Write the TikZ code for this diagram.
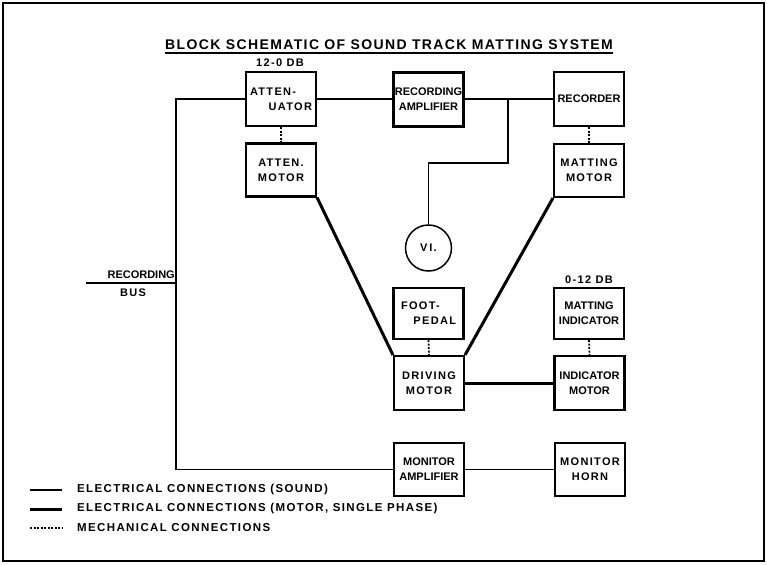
\documentclass[tikz,border=0pt]{standalone}
\usepackage{fontspec}
\setmainfont{Liberation Sans}
\newfontfamily\widefont{Liberation Sans}[LetterSpace=12]
\newfontfamily\titlefont{Liberation Sans}[LetterSpace=10]
\begin{document}
\begin{tikzpicture}[x=1pt,y=-1pt,
  blk/.style={draw, line width=2.1pt, minimum width=70pt, minimum height=54pt,
    inner sep=0pt, align=center, font=\bfseries\fontsize{11}{15}\selectfont},
  wblk/.style={blk, font=\widefont\bfseries\fontsize{11}{15}\selectfont},
  txt/.style={inner sep=0pt, font=\widefont\bfseries\fontsize{11}{15}\selectfont},
  legtxt/.style={inner sep=0pt, anchor=west, font=\widefont\bfseries\fontsize{11.5}{14}\selectfont},
  snd/.style={line width=1.5pt},
  mot/.style={line width=3pt},
  mech/.style={line width=1.7pt, dash pattern=on 2pt off 1.5pt},
]
\useasboundingbox (0,0) rectangle (767,564);
\draw[line width=2pt] (3,3) rectangle (764,561);

% title
\node[inner sep=0pt, font=\titlefont\bfseries\fontsize{14}{16}\selectfont] (title) at (389,45)
  {BLOCK SCHEMATIC OF SOUND TRACK MATTING SYSTEM};
\draw[line width=1.4pt] (title.south west) ++(0,3) coordinate (ulA) -- (ulA -| title.south east);

% boxes
\node[wblk] (att) at (281,99) {\makebox[62pt][l]{ATTEN-}\\\makebox[62pt][r]{UATOR}};
\node[blk] (recamp) at (428.5,99.5) {RECORDING\\AMPLIFIER};
\node[blk] (rec) at (589,99) {RECORDER};
\node[wblk, minimum height=53pt] (attm) at (281,170) {ATTEN.\\MOTOR};
\node[wblk, minimum height=53pt] (matm) at (589,170.5) {MATTING\\MOTOR};
\node[draw, circle, line width=1.5pt, minimum size=46pt, inner sep=0pt,
  font=\widefont\bfseries\fontsize{11}{13}\selectfont] (vi) at (428.5,248) {V\,I.};
\node[wblk, minimum height=51pt] (foot) at (428.5,313.5) {\makebox[55pt][l]{FOOT-}\\\makebox[55pt][r]{PEDAL}};
\node[wblk] (drv) at (429,383) {DRIVING\\MOTOR};
\node[blk, minimum height=51pt] (mind) at (589,313.5) {MATTING\\INDICATOR};
\node[blk] (indm) at (589.5,383) {INDICATOR\\MOTOR};
\node[blk, minimum height=53pt] (monamp) at (429,469.5) {MONITOR\\AMPLIFIER};
\node[wblk, minimum height=53pt] (horn) at (590,469.5) {MONITOR\\HORN};

% labels
\node[txt] (db1) at (280,63) {12-0 DB};
\node[txt] (db2) at (589,280) {0-12 DB};
\node[inner sep=0pt, anchor=east, font=\bfseries\fontsize{11}{13}\selectfont] (rbus) at (175,275) {RECORDING};
\node[inner sep=0pt, font=\widefont\bfseries\fontsize{11}{13}\selectfont] (bus) at (133,293) {BUS};

% sound connections
\coordinate (lb) at (176,469.5);
\coordinate (busA) at (86,283);
\coordinate (busB) at (176,283);
\draw[snd] (att.west) -| (lb) -- (monamp.west);
\draw[snd] (busA) -- (busB);
\draw[snd] (att.east) -- (recamp.west |- att.east);
\draw[snd] (recamp.east |- att.east) -- (rec.west);
\coordinate (j1) at (508,99);
\coordinate (j2) at (508,163);
\draw[snd] (j1) -- (j2) -| (vi.north);
\draw[snd] (monamp.east) -- (horn.west);

% motor connections
\draw[mot] (attm.south east) -- (drv.north west);
\draw[mot] (matm.south west) -- (drv.north east);
\draw[mot] (drv.east) -- (indm.west);

% mechanical
\draw[mech] (att.south) -- (attm.north);
\draw[mech] (rec.south) -- (matm.north);
\draw[mech] (foot.south) -- (drv.north);
\draw[mech] (mind.south) -- (indm.north);

% legend
\coordinate (l1a) at (30,490); \coordinate (l1b) at (62,490);
\coordinate (l2a) at (30,509); \coordinate (l2b) at (62,509);
\coordinate (l3a) at (30,528); \coordinate (l3b) at (62,528);
\draw[snd] (l1a) -- (l1b);
\draw[mot] (l2a) -- (l2b);
\draw[mech] (l3a) -- (l3b);
\node[legtxt] (t1) at (77,490) {ELECTRICAL CONNECTIONS (SOUND)};
\node[legtxt] (t2) at (77,509) {ELECTRICAL CONNECTIONS (MOTOR, SINGLE PHASE)};
\node[legtxt] (t3) at (77,528) {MECHANICAL CONNECTIONS};
\end{tikzpicture}
\end{document}
